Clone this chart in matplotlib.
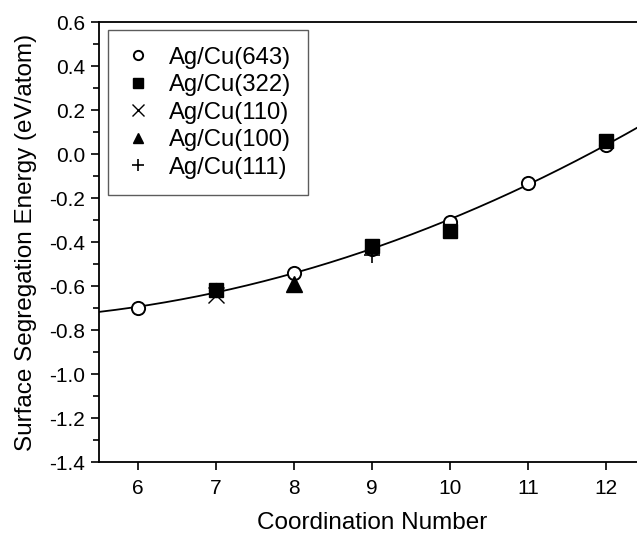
import matplotlib
matplotlib.use("Agg")
import matplotlib.pyplot as plt
import numpy as np
from matplotlib.ticker import MultipleLocator, FormatStrFormatter

plt.rcParams["font.family"] = ["Liberation Sans", "DejaVu Sans"]

# segregation energies (eV/atom) vs coordination number of the surface site
cn_643 = [6, 7, 8, 9, 10, 11, 12]
e_643 = [-0.70, -0.62, -0.54, -0.43, -0.31, -0.13, 0.04]
cn_322 = [7, 9, 10, 12]
e_322 = [-0.62, -0.42, -0.35, 0.06]
cn_110 = [7]
e_110 = [-0.64]
cn_100 = [8]
e_100 = [-0.59]
cn_111 = [9]
e_111 = [-0.46]

fig = plt.figure(figsize=(6.37, 5.34), dpi=100)
ax = fig.add_axes([99 / 637, 72 / 534, 546 / 637, 440 / 534])

# quadratic trend through the (643) points
coef = np.polyfit(cn_643, e_643, 2)
xs = np.linspace(5.5, 12.5, 200)
ax.plot(xs, np.polyval(coef, xs), "-", color="black", lw=1.3, zorder=1)

ax.plot(cn_643, e_643, "o", mfc="white", mec="black", mew=1.4, ms=9.5,
        ls="none", label="Ag/Cu(643)", zorder=2)
ax.plot(cn_322, e_322, "s", color="black", ms=9.5, ls="none",
        label="Ag/Cu(322)", zorder=3)
ax.plot(cn_110, e_110, "x", color="black", mew=1.0, ms=12, ls="none",
        label="Ag/Cu(110)", zorder=3)
ax.plot(cn_100, e_100, "^", color="black", ms=11, ls="none",
        label="Ag/Cu(100)", zorder=3)
ax.plot(cn_111, e_111, "+", color="black", mew=1.2, ms=12, ls="none",
        label="Ag/Cu(111)", zorder=3)

ax.set_xlim(5.5, 12.5)
ax.set_ylim(-1.4, 0.6)
ax.xaxis.set_major_locator(MultipleLocator(1))
ax.yaxis.set_major_locator(MultipleLocator(0.2))
ax.yaxis.set_minor_locator(MultipleLocator(0.1))
ax.yaxis.set_major_formatter(FormatStrFormatter("%.1f"))
ax.tick_params(which="major", direction="out", length=6, width=1.2,
               labelsize=15, top=False, right=False)
ax.tick_params(which="minor", direction="out", length=4, width=1.2,
               top=False, right=False)
ax.tick_params(axis="x", which="major", pad=6)
ax.tick_params(axis="y", which="major", pad=4)
ax.tick_params(axis="x", which="minor", bottom=False)
for s in ax.spines.values():
    s.set_linewidth(1.3)

ax.set_xlabel("Coordination Number", fontsize=17.5, labelpad=10)
ax.set_ylabel("Surface Segregation Energy (eV/atom)", fontsize=17.5,
              labelpad=9)

leg = ax.legend(loc="upper left", fontsize=17.2, frameon=True, fancybox=False,
                edgecolor="#333333", handlelength=1.1, handletextpad=0.75,
                borderpad=0.7, labelspacing=0.23, markerscale=0.7,
                numpoints=1, borderaxespad=0,
                bbox_to_anchor=(108 / 637, 1 - 30 / 534),
                bbox_transform=fig.transFigure)
leg.get_frame().set_linewidth(1.0)

fig.savefig("out.png", dpi=100, facecolor="white")
